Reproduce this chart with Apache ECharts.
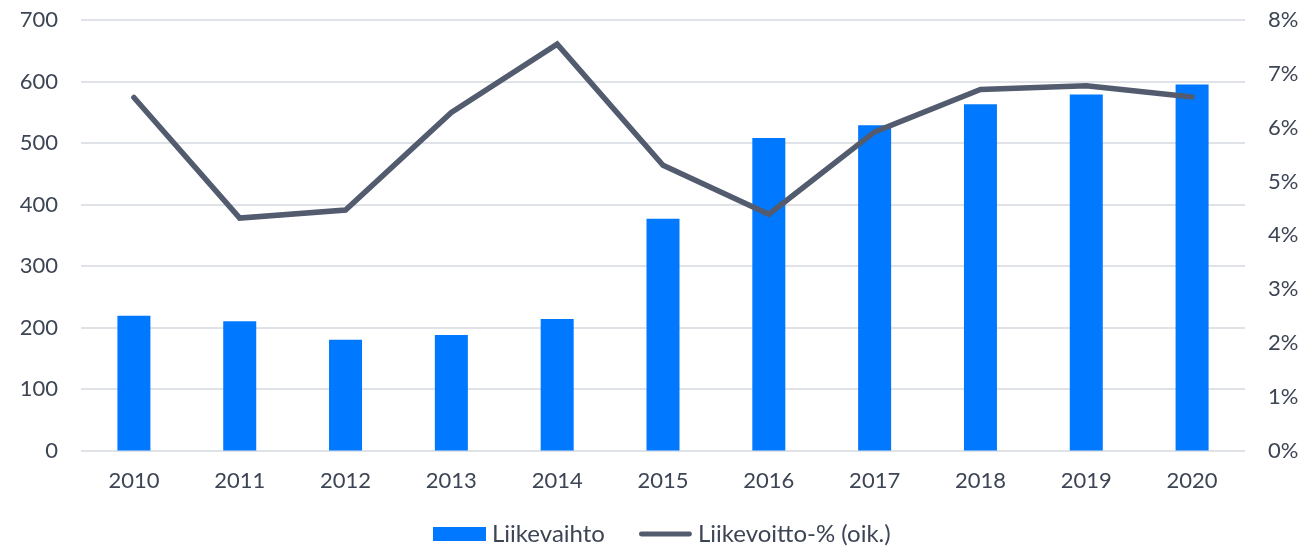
<!DOCTYPE html>
<html>
<head>
<meta charset="utf-8">
<script src="https://cdn.jsdelivr.net/npm/echarts@6/dist/echarts.min.js"></script>
<style>
  html, body { margin: 0; padding: 0; background: #ffffff; }
  #chart { width: 1315px; height: 546px; }
</style>
</head>
<body>
<div id="chart"></div>
<script>
// Vuodet
const years = ['2010', '2011', '2012', '2013', '2014', '2015', '2016', '2017', '2018', '2019', '2020'];
// Liikevaihto (vasen akseli)
const revenue = [219, 210, 180, 188, 214, 377, 508, 529, 563, 579, 595];
// Liikevoitto-% (oikea akseli)
const ebitPct = [6.56, 4.32, 4.47, 6.28, 7.55, 5.30, 4.39, 5.92, 6.71, 6.78, 6.57];

const textColor = '#3d4554';
const lineColor = '#525c6e';
const fontFamily = 'Lato, "Open Sans", sans-serif';

// Pyöreäpäinen viiva selitteen kuvakkeeksi
const lineIcon = 'path://M2.5,0 H52.5 A2.5,2.5 0 0 1 52.5,5 H2.5 A2.5,2.5 0 0 1 2.5,0 Z';

const chart = echarts.init(document.getElementById('chart'), null, { renderer: 'canvas' });

chart.setOption({
  animation: false,
  backgroundColor: '#ffffff',
  textStyle: { fontFamily: fontFamily, color: textColor },
  grid: { left: 81, right: 70, top: 20, bottom: 95.5, containLabel: false },
  legend: {
    top: 522,
    left: 433,
    padding: 0,
    itemWidth: 53,
    itemHeight: 14,
    itemGap: 34,
    textStyle: { fontFamily: fontFamily, color: textColor, fontSize: 24, padding: [0, 0, 0, 1] },
    data: [
      { name: 'Liikevaihto', icon: 'rect' },
      { name: 'Liikevoitto-% (oik.)', icon: lineIcon, itemStyle: { color: lineColor } }
    ]
  },
  xAxis: {
    type: 'category',
    data: years,
    axisLine: { show: false },
    axisTick: { show: false },
    axisLabel: { color: textColor, fontSize: 22, margin: 19, fontFamily: fontFamily }
  },
  yAxis: [
    {
      type: 'value',
      min: 0,
      max: 700,
      interval: 100,
      axisLine: { show: false },
      axisTick: { show: false },
      axisLabel: { color: textColor, fontSize: 22, margin: 23, fontFamily: fontFamily },
      splitLine: { lineStyle: { color: '#dfe3e8', width: 2 } }
    },
    {
      type: 'value',
      min: 0,
      max: 8,
      interval: 1,
      axisLine: { show: false },
      axisTick: { show: false },
      axisLabel: { color: textColor, fontSize: 22, margin: 23, fontFamily: fontFamily, formatter: '{value}%' },
      splitLine: { show: false }
    }
  ],
  series: [
    {
      name: 'Liikevaihto',
      type: 'bar',
      yAxisIndex: 0,
      data: revenue,
      barWidth: 33,
      itemStyle: { color: '#0078ff' }
    },
    {
      name: 'Liikevoitto-% (oik.)',
      type: 'line',
      yAxisIndex: 1,
      data: ebitPct,
      symbol: 'none',
      z: 5,
      lineStyle: { color: lineColor, width: 5.5, cap: 'round', join: 'miter' },
      itemStyle: { color: lineColor }
    }
  ]
});
</script>
</body>
</html>
